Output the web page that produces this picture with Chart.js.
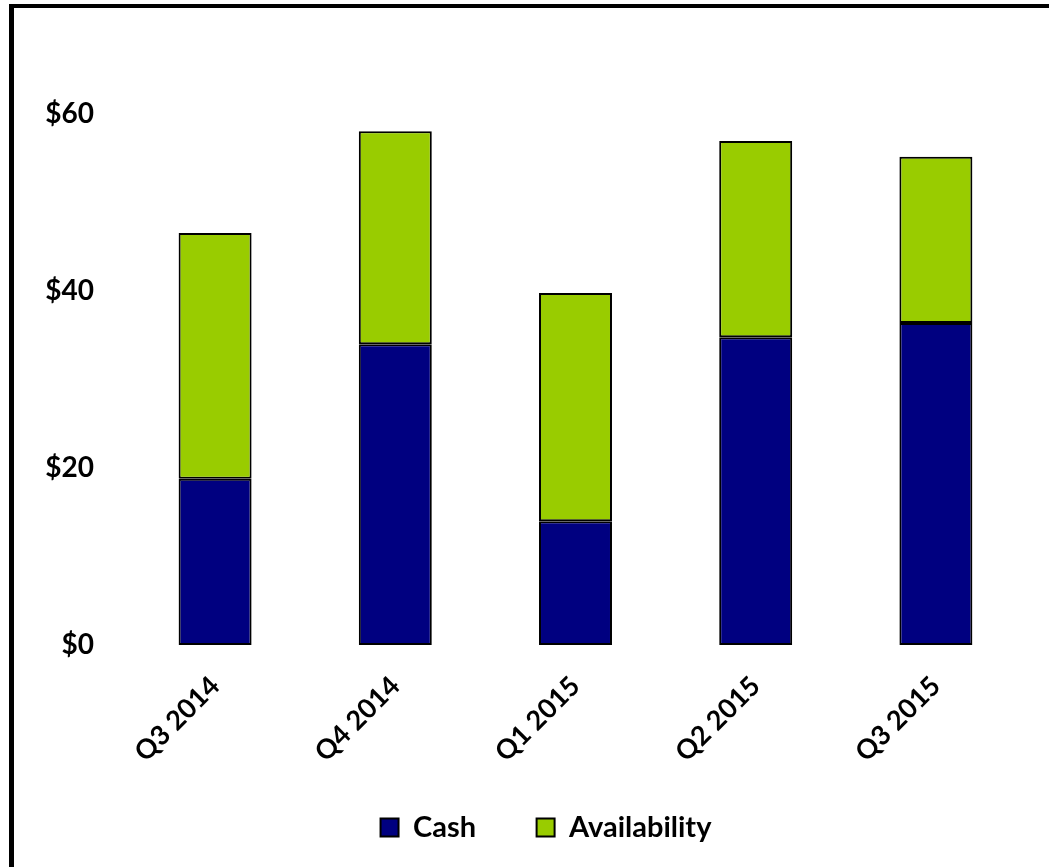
<!DOCTYPE html>
<html>
<head>
<meta charset="utf-8">
<script src="https://cdn.jsdelivr.net/npm/chart.js@4/dist/chart.umd.min.js"></script>
<style>
  html, body { margin: 0; padding: 0; background: #ffffff; overflow: hidden; }
  #wrap { position: relative; width: 1049px; height: 867px; }
  #frame { position: absolute; left: 9px; top: 4px; width: 1100px; height: 900px;
           border-left: 5px solid #000; border-top: 4px solid #000; pointer-events: none; }
  canvas { position: absolute; left: 0; top: 0; }
</style>
</head>
<body>
<div id="wrap">
  <canvas id="c" width="1049" height="867"></canvas>
  <div id="frame"></div>
</div>
<script>
const categories = ["Q3 2014", "Q4 2014", "Q1 2015", "Q2 2015", "Q3 2015"];
const cashValues = [18.8, 34.0, 14.0, 34.8, 36.4];
const availabilityValues = [27.8, 24.1, 25.8, 22.2, 18.8];
const yTickValues = [0, 20, 40, 60];

const FONT = "Lato, 'Open Sans', 'DejaVu Sans', sans-serif";

const legendShift = {
  id: 'legendShift',
  afterLayout(chart) { if (chart.legend) chart.legend.left += 66; }
};

new Chart(document.getElementById('c'), {
  type: 'bar',
  data: {
    labels: categories,
    datasets: [
      { label: 'Cash', data: cashValues, backgroundColor: '#000080',
        borderColor: '#000000', borderWidth: 2, borderSkipped: false },
      { label: 'Availability', data: availabilityValues, backgroundColor: '#99CC00',
        borderColor: '#000000', borderWidth: 2, borderSkipped: false }
    ]
  },
  plugins: [legendShift],
  options: {
    responsive: false,
    animation: false,
    devicePixelRatio: 1,
    layout: { padding: { top: 26, right: 23, left: 0, bottom: 15 } },
    datasets: { bar: { categoryPercentage: 1.0, barPercentage: 0.405 } },
    plugins: {
      tooltip: { enabled: false },
      legend: {
        position: 'bottom',
        labels: {
          color: '#000',
          font: { family: FONT, size: 29, weight: 'bold' },
          boxWidth: 18, boxHeight: 18, padding: 10,
          generateLabels: (chart) => {
            const items = Chart.defaults.plugins.legend.labels.generateLabels(chart);
            items.forEach((it, i) => {
              it.lineWidth = 2;
              it.strokeStyle = '#000';
              if (i === 0) it.text = it.text + '\u2002\u2002\u2002 ';
            });
            return items;
          }
        }
      }
    },
    scales: {
      x: {
        stacked: true,
        grid: { display: false, drawTicks: false },
        border: { display: false },
        ticks: {
          color: '#000', maxRotation: 45, minRotation: 45, padding: 25,
          font: { family: FONT, size: 27, weight: 'bold' }
        },
        afterFit: (s) => { s.height = 158; }
      },
      y: {
        stacked: true,
        min: 0, max: 70,
        grid: { display: false, drawTicks: false },
        border: { display: false },
        afterBuildTicks: (s) => { s.ticks = yTickValues.map(v => ({ value: v })); },
        ticks: {
          color: '#000', padding: 31,
          font: { family: FONT, size: 28, weight: 'bold' },
          callback: (v) => '$' + v
        },
        afterFit: (s) => { s.width = 125; s.paddingTop = 0; s.paddingBottom = 0; }
      }
    }
  }
});
</script>
</body>
</html>
